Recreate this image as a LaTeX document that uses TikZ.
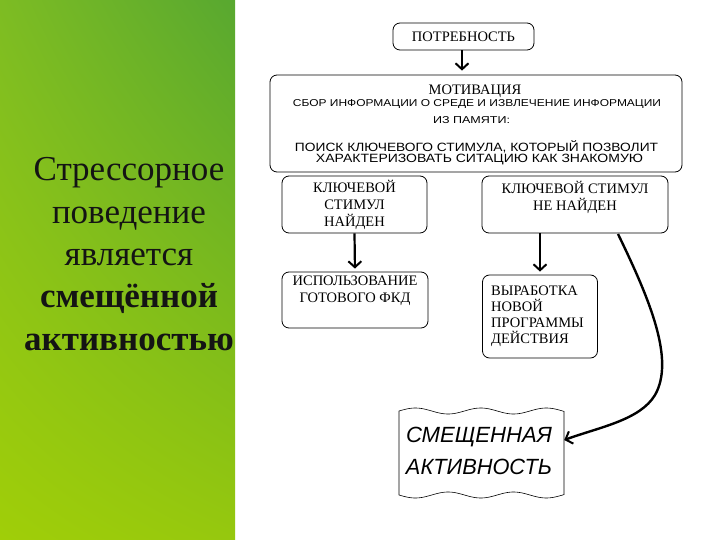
\documentclass[tikz,border=0pt]{standalone}
\usepackage{fontspec}
\usepackage{graphicx}
\setmainfont{Liberation Serif}
\newfontfamily\sansf{Liberation Sans}
\usetikzlibrary{arrows.meta,shadings}
\definecolor{gul}{RGB}{125,188,35}
\definecolor{gur}{RGB}{88,168,48}
\definecolor{gll}{RGB}{160,206,8}
\definecolor{glr}{RGB}{150,200,14}
\newcommand{\fitw}[2]{\resizebox{#1}{\height}{#2}}
\begin{document}
\begin{tikzpicture}[x=1pt,y=-1pt,
  box/.style={draw, rounded corners=7pt, line width=0.8pt, inner sep=0pt},
  serif/.style={font=\fontsize{14.5}{17}\selectfont, align=center, inner sep=0pt},
  sansA/.style={font=\sansf\fontsize{10}{12}\selectfont, inner sep=0pt},
  sansB/.style={font=\sansf\fontsize{12}{14}\selectfont, inner sep=0pt},
  flagtext/.style={font=\sansf\itshape\fontsize{22}{26}\selectfont, inner sep=0pt},
  arr/.style={line width=2.2pt, -{Straight Barb[length=6pt,width=13pt,line width=2pt]}}
]
\useasboundingbox (0,0) rectangle (720,540);
\fill[white] (0,0) rectangle (720,540);
\shade[upper left=gul, upper right=gur, lower left=gll, lower right=glr] (0,0) rectangle (235,540);

\node[font=\fontsize{35}{42.3}\selectfont, align=center, text=black!92, inner sep=0pt] (title) at (129,254)
  {Стрессорное\\поведение\\является\\\textbf{смещённой}\\\textbf{активностью}};

% boxes
\node[box, serif, minimum width=141pt, minimum height=27pt] (need) at (463.5,36.5) {ПОТРЕБНОСТЬ};
\node[box, minimum width=412pt, minimum height=97pt] (motiv) at (476,123.5) {};
\node[serif] (m1) at (475,91.5) {МОТИВАЦИЯ};
\node[sansA] (m2) at (477,104.5) {\fitw{368pt}{СБОР ИНФОРМАЦИИ О СРЕДЕ И ИЗВЛЕЧЕНИЕ ИНФОРМАЦИИ}};
\node[sansA] (m3) at (471.5,120.5) {\fitw{77pt}{ИЗ ПАМЯТИ:}};
\node[sansB] (m4) at (476.5,146.5) {\fitw{363pt}{ПОИСК КЛЮЧЕВОГО СТИМУЛА, КОТОРЫЙ ПОЗВОЛИТ}};
\node[sansB] (m5) at (479.5,159.5) {\fitw{327pt}{ХАРАКТЕРИЗОВАТЬ СИТАЦИЮ КАК ЗНАКОМУЮ}};

\node[box, serif, minimum width=145pt, minimum height=57pt] (found) at (354.5,204.5) {КЛЮЧЕВОЙ\\СТИМУЛ\\НАЙДЕН};
\node[box, minimum width=186pt, minimum height=57pt] (notfound) at (575,204.5) {};
\node[serif] (nft) at (575,197.5) {КЛЮЧЕВОЙ СТИМУЛ\\НЕ НАЙДЕН};

\node[box, minimum width=146pt, minimum height=56pt] (use) at (355,300) {};
\node[serif] (uset) at (355,291) {ИСПОЛЬЗОВАНИЕ\\ГОТОВОГО ФКД};

\node[box, minimum width=115pt, minimum height=83pt] (newprog) at (540,316.5) {};
\node[serif, align=left, anchor=west, font=\fontsize{14.5}{16}\selectfont] (npt) at (491,316) {ВЫРАБОТКА\\НОВОЙ\\ПРОГРАММЫ\\ДЕЙСТВИЯ};

% flag
\node[minimum width=165pt, minimum height=84pt, inner sep=0pt] (flag) at (481.5,452) {};
\draw[line width=0.6pt] plot[domain=399:564,samples=80] (\x,{411-3*sin((\x-399)*5.5)})
  -- plot[domain=564:399,samples=80] (\x,{495+3*sin((\x-399)*5.5)}) -- cycle;
\node[flagtext] (f1) at (479,437) {\fitw{146pt}{СМЕЩЕННАЯ}};
\node[flagtext] (f2) at (479,467) {\fitw{146pt}{АКТИВНОСТЬ}};

% arrows
\draw[arr, shorten >=4pt] (need.south -| 462,0) -- (motiv.north -| 462,0);
\draw[arr, shorten >=3pt] (found.south) -- (use.north);
\draw[arr, shorten >=3pt] (newprog.north |- notfound.south) -- (newprog.north);
\coordinate (cs) at (618,234);
\draw[arr, line width=2.4pt] (cs) .. controls (650,300) and (675,360) .. (655,395)
  .. controls (640,420) and (600,427) .. ([yshift=12pt]flag.east);
\end{tikzpicture}
\end{document}
